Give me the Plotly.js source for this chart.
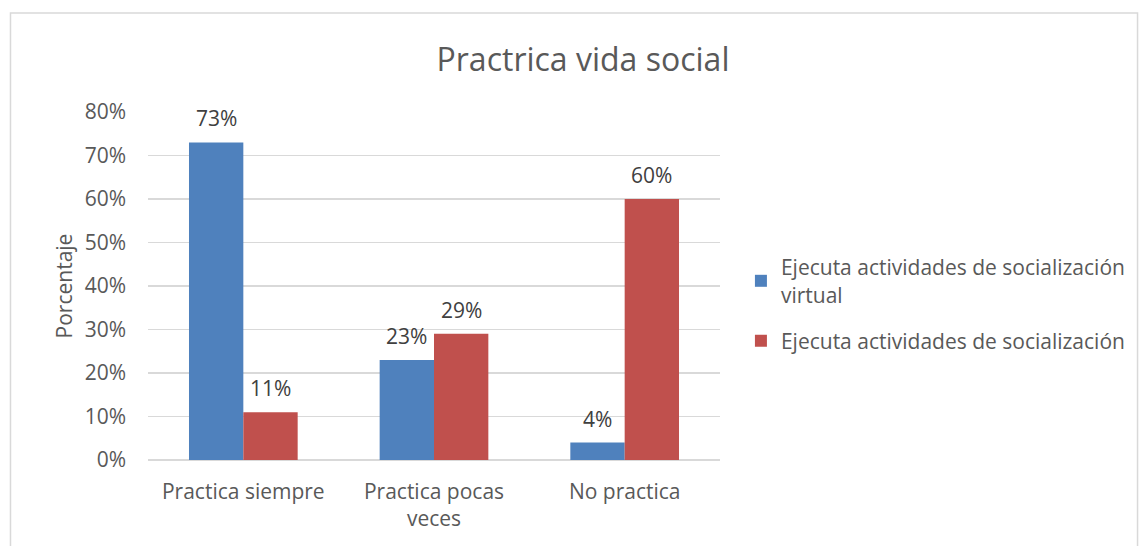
<!DOCTYPE html>
<html>
<head>
<meta charset="utf-8">
<script src="https://cdn.plot.ly/plotly-3.0.1.min.js"></script>
<style>html,body{margin:0;padding:0;background:#fff;}#chart{width:1142px;height:546px;}</style>
</head>
<body>
<div id="chart"></div>
<script>
const categories = ["Practica siempre", "Practica pocas<br>veces", "No practica"];
const seriesNames = ["Ejecuta actividades de socialización<br>virtual", "Ejecuta actividades de socialización"];
const virtualValues = [0.73, 0.23, 0.04];
const presencialValues = [0.11, 0.29, 0.60];
const tickVals = [0, 0.1, 0.2, 0.3, 0.4, 0.5, 0.6, 0.7, 0.8];

const W = 1142, H = 546;
const L = 148, R = 722, T = 112, B = 460;
const FS = 21;
const font = {family: "'Open Sans', 'Noto Sans', sans-serif", color: "#595959"};
const colors = ['#4F81BD', '#C0504D'];

function bar(name, vals, color, grp) {
  return {
    type: 'bar', name: name, x: categories, y: vals, legendgroup: grp,
    marker: {color: color},
    hoverinfo: 'skip'
  };
}

const data = [bar(seriesNames[0], virtualValues, colors[0], 'a'),
              bar(seriesNames[1], presencialValues, colors[1], 'b')];

const pw = R - L, ph = B - T;
const barPx = 54.5;
const annotations = [];
[virtualValues, presencialValues].forEach((vals, si) => {
  vals.forEach((v, i) => {
    annotations.push({
      x: categories[i], y: v, xref: 'x', yref: 'y',
      text: Math.round(v * 100) + '%', showarrow: false,
      xshift: (si === 0 ? -1 : 1) * barPx / 2, yshift: 24, yanchor: 'middle',
      font: {family: font.family, size: FS, color: '#404040'}
    });
  });
});

const layout = {
  width: W, height: H,
  margin: {l: L, r: W - R, t: T, b: H - B, pad: 0},
  paper_bgcolor: '#fff', plot_bgcolor: '#fff',
  font: font,
  title: {text: 'Practrica vida social', font: {family: font.family, size: 32, color: '#595959'},
          x: 583 / W, xanchor: 'center', xref: 'container', y: 1 - 60 / H, yanchor: 'middle', yref: 'container'},
  barmode: 'group', bargap: 0.43, bargroupgap: 0,
  xaxis: {tickfont: {size: FS, color: '#595959'}, showline: false, ticks: '', ticklabelstandoff: 17, fixedrange: true},
  yaxis: {range: [0, 0.8], tickvals: tickVals, tickformat: '.0%', tickfont: {size: FS, color: '#595959'},
          gridcolor: '#d9d9d9', gridwidth: 1.3, zerolinecolor: '#d9d9d9', zerolinewidth: 1.3,
          ticklabelstandoff: 21, showline: false,
          title: {text: 'Porcentaje', font: {size: FS, color: '#595959'}, standoff: 6}},
  legend: {x: (743 - L) / pw, xanchor: 'left', y: (B - 304) / ph, yanchor: 'middle',
           font: {size: FS, color: '#595959'}, tracegroupgap: 16, itemwidth: 30, bgcolor: 'rgba(0,0,0,0)'},
  showlegend: true,
  annotations: annotations,
  shapes: [{type: 'rect', xref: 'paper', yref: 'paper',
            x0: (10 - L) / pw, x1: (1141 - L) / pw, y0: (B - 560) / ph, y1: (B - 13) / ph,
            line: {color: '#d9d9d9', width: 1.5}, fillcolor: 'rgba(0,0,0,0)', layer: 'below'}]
};

Plotly.newPlot('chart', data, layout, {displayModeBar: false, staticPlot: true});
</script>
</body>
</html>
